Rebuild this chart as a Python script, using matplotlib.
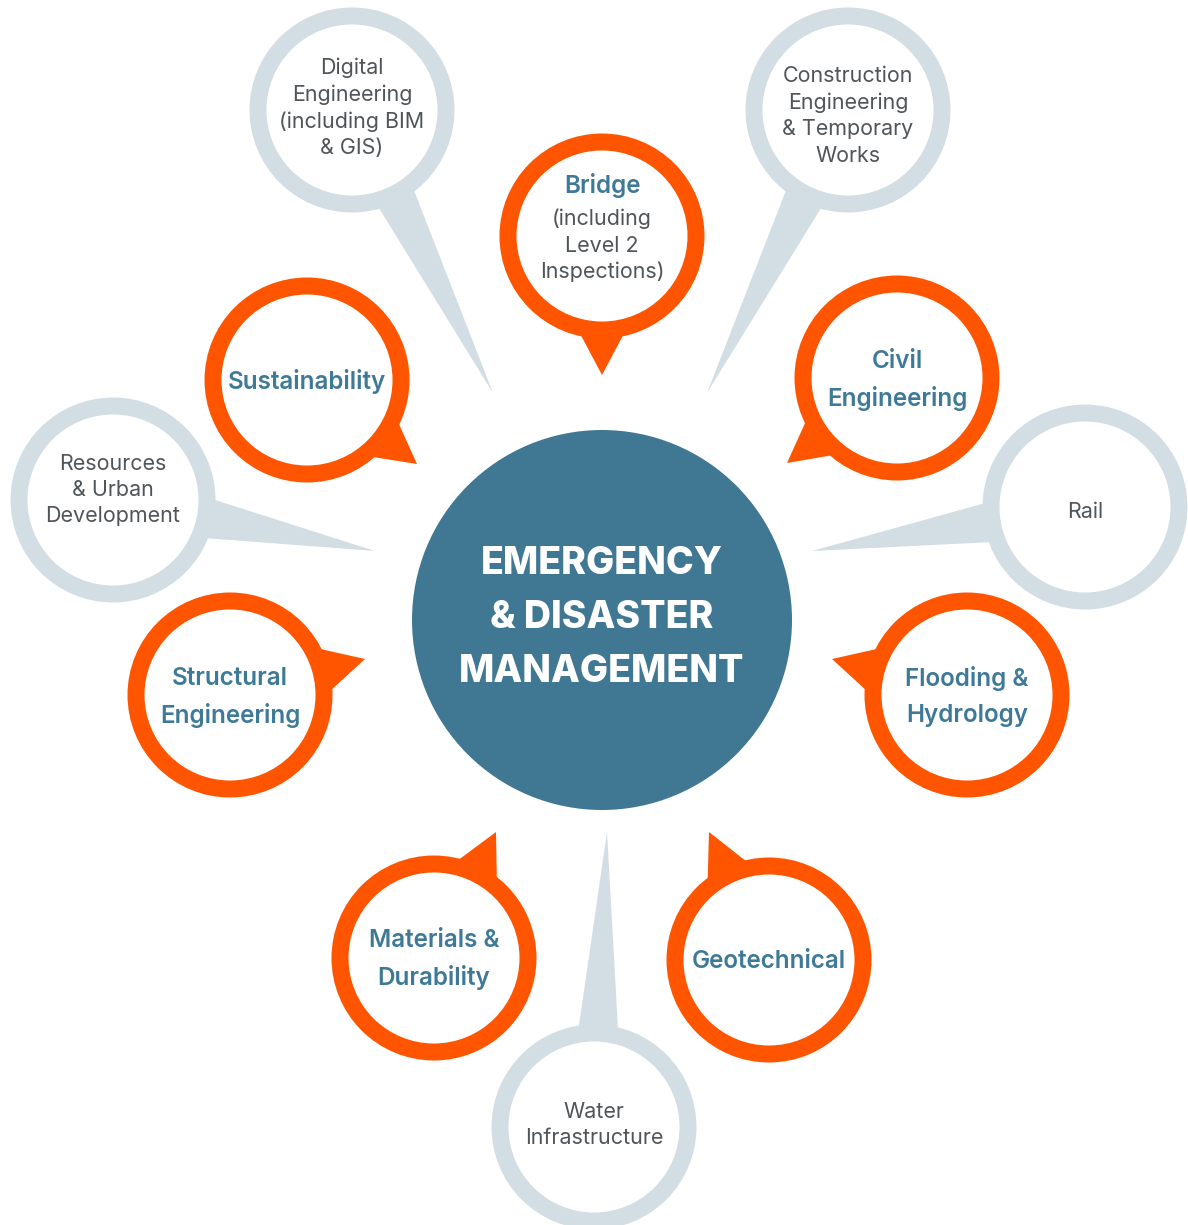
import matplotlib
matplotlib.use("Agg")
import matplotlib.pyplot as plt
from matplotlib.patches import Circle, Polygon
import numpy as np

# ---- data ----
center_title = ["EMERGENCY", "& DISASTER", "MANAGEMENT"]
topic_titles = [
    ["Digital", "Engineering", "(including BIM", "& GIS)"],
    ["Bridge"],
    ["Construction", "Engineering", "& Temporary", "Works"],
    ["Sustainability"],
    ["Civil", "Engineering"],
    ["Resources", "& Urban", "Development"],
    ["Rail"],
    ["Structural", "Engineering"],
    ["Flooding &", "Hydrology"],
    ["Materials &", "Durability"],
    ["Geotechnical"],
    ["Water", "Infrastructure"],
]
topic_subtitles = [[], ["(including", "Level 2", "Inspections)"], [], [], [], [], [], [], [], [], [], []]
topic_core = [False, True, False, True, True, False, False, True, True, True, True, False]

# ---- layout (pixel space) ----
W, H = 1188, 1225
hub = (602, 620)
hub_r = 190
bubble_centers = [(352, 110), (602, 236), (848, 110), (307, 380), (897, 378), (113, 500),
                  (1085, 507), (230, 695), (967, 695), (434, 958), (769, 960), (594, 1127)]
tail_tips = [(493, 393), (602, 375), (707, 393), (417, 464), (787, 463), (375, 551),
             (812, 551), (365, 659), (832, 659), (496, 832), (709, 832), (607, 832)]
text_y = [108, 186, 116, 381, 380, 490, 512, 697, 697, 959, 961, 1125]

R_OUT, RING = 102.5, 17
ORANGE = "#FF5500"
GREY_RING = "#D3DEE4"
HUB = "#407894"
TEAL = "#3E7A98"
GREY_TXT = "#505559"

plt.rcParams['font.family'] = ['Inter', 'DejaVu Sans']

fig = plt.figure(figsize=(W / 100, H / 100), dpi=100)
ax = fig.add_axes([0, 0, 1, 1])
ax.set_xlim(0, W)
ax.set_ylim(H, 0)
ax.set_aspect('equal')
ax.axis('off')

px = 0.72  # px -> pt
F_CORE, F_GREY, F_HUB = 24.2, 21.5, 37.5

for i, (cx, cy) in enumerate(bubble_centers):
    core = topic_core[i]
    col = ORANGE if core else GREY_RING
    tx, ty = tail_tips[i]
    ang = np.arctan2(ty - cy, tx - cx)
    half = np.radians(13 if core else 11.5)
    p1 = (cx + R_OUT * 0.97 * np.cos(ang - half), cy + R_OUT * 0.97 * np.sin(ang - half))
    p2 = (cx + R_OUT * 0.97 * np.cos(ang + half), cy + R_OUT * 0.97 * np.sin(ang + half))
    ax.add_patch(Polygon([p1, (tx, ty), p2], closed=True, color=col, lw=0, zorder=1))
    ax.add_patch(Circle((cx, cy), R_OUT, color=col, lw=0, zorder=2))
    ax.add_patch(Circle((cx, cy), R_OUT - RING, color="white", lw=0, zorder=3))

    title = topic_titles[i]
    sub = topic_subtitles[i]
    if core:
        if sub:
            ax.text(cx, text_y[i], title[0], ha='center', va='center', fontsize=F_CORE * px,
                    fontweight='semibold', color=TEAL, zorder=5)
            for j, s in enumerate(sub):
                ax.text(cx, text_y[i] + 33 + j * 26.5, s, ha='center', va='center',
                        fontsize=F_GREY * px, color=GREY_TXT, zorder=5)
        else:
            lh = 37.5
            n = len(title)
            for j, s in enumerate(title):
                ax.text(cx, text_y[i] + (j - (n - 1) / 2) * lh, s, ha='center', va='center',
                        fontsize=F_CORE * px, fontweight='semibold', color=TEAL, zorder=5)
    else:
        lh = 26.5
        n = len(title)
        for j, s in enumerate(title):
            ax.text(cx, text_y[i] + (j - (n - 1) / 2) * lh, s, ha='center', va='center',
                    fontsize=F_GREY * px, color=GREY_TXT, zorder=5)

ax.add_patch(Circle(hub, hub_r, color=HUB, lw=0, zorder=4))
for j, s in enumerate(center_title):
    ax.text(hub[0], hub[1] - 2 + (j - 1) * 54, s, ha='center', va='center', fontsize=F_HUB * px,
            fontweight='heavy', color='white', zorder=6)

fig.savefig("out.png", dpi=100, facecolor='white')
